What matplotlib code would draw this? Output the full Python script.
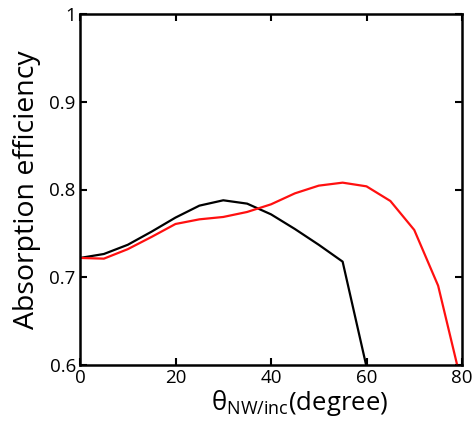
import matplotlib
matplotlib.use("Agg")
import matplotlib.pyplot as plt

plt.rcParams['font.family'] = ['Open Sans', 'DejaVu Sans']
plt.rcParams['mathtext.fontset'] = 'custom'
plt.rcParams['mathtext.rm'] = 'Open Sans'

angles_black = [0, 5, 10, 15, 20, 25, 30, 35, 40, 45, 50, 55, 60]
eff_black = [0.722, 0.7265, 0.737, 0.752, 0.768, 0.7816, 0.7877, 0.7839, 0.7717, 0.755, 0.737, 0.7178, 0.598]

angles_red = [0, 5, 10, 15, 20, 25, 30, 35, 40, 45, 50, 55, 60, 65, 70, 75, 80]
eff_red = [0.722, 0.7212, 0.732, 0.746, 0.7607, 0.766, 0.7687, 0.7744, 0.7831, 0.7956, 0.8044, 0.8078,
           0.8036, 0.7869, 0.7539, 0.6904, 0.577]

xticks = [0, 20, 40, 60, 80]
yticks = [0.6, 0.7, 0.8, 0.9, 1.0]
ytick_labels = ['0.6', '0.7', '0.8', '0.9', '1']

fig = plt.figure(figsize=(4.76, 4.26), dpi=100)
ax = fig.add_axes([80/476, 1-365/426, (462-80)/476, (365-14)/426])

ax.plot(angles_black, eff_black, color='black', lw=1.6)
ax.plot(angles_red, eff_red, color='#ff1010', lw=1.6)

ax.set_xlim(0, 80)
ax.set_ylim(0.6, 1.0)
ax.set_xticks(xticks)
ax.set_xticklabels([str(t) for t in xticks])
ax.set_yticks(yticks)
ax.set_yticklabels(ytick_labels)
ax.tick_params(direction='in', top=True, right=True, length=5, width=1.5, labelsize=13.5, pad=3)
for s in ax.spines.values():
    s.set_linewidth(1.8)

ax.set_ylabel('Absorption efficiency', fontsize=20.5, labelpad=6)
ax.set_xlabel(r'θ$_{\mathregular{NW/inc}}$(degree)', fontsize=18.5, labelpad=0)
ax.xaxis.set_label_coords(0.575, -0.065, transform=ax.transAxes)
ax.xaxis.label.set_va('top')

fig.savefig('out.png', dpi=100)
